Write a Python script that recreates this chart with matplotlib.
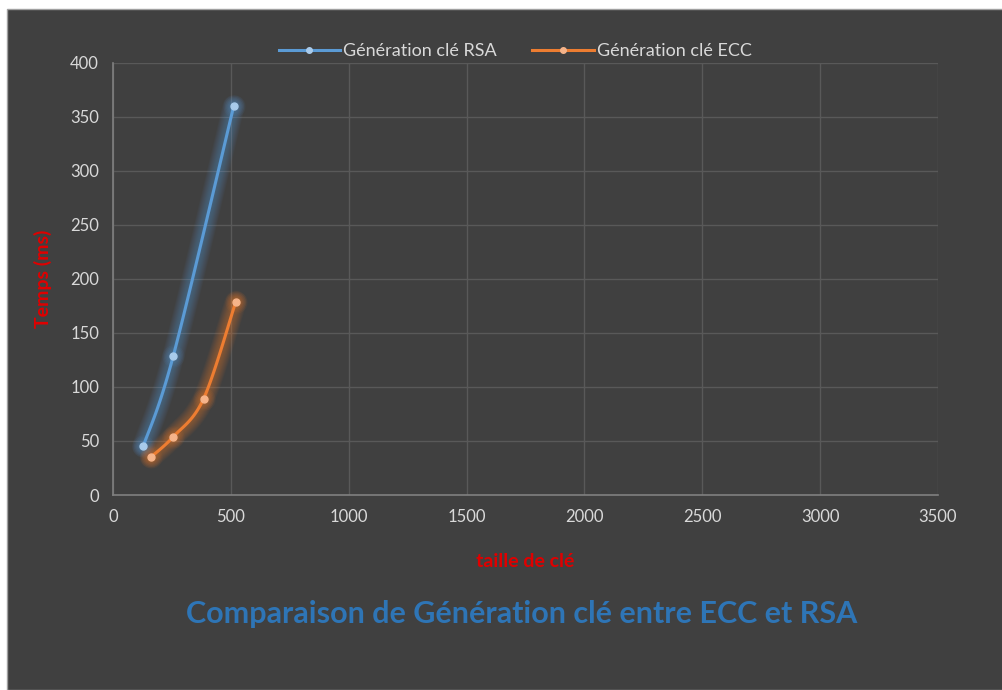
import numpy as np
import matplotlib.pyplot as plt
from matplotlib.patches import Rectangle
from matplotlib.lines import Line2D

# tailles de clé (bits) et temps de génération (ms)
rsa_sizes = [128, 256, 512]
rsa_times = [45, 129, 360]
ecc_sizes = [160, 256, 384, 521]
ecc_times = [35, 54, 89, 179]

x_ticks = [0, 500, 1000, 1500, 2000, 2500, 3000, 3500]
y_ticks = [0, 50, 100, 150, 200, 250, 300, 350, 400]

BG = "#404040"
GRID = "#595959"
TICK = "#d9d9d9"
RSA_COL = "#5b9bd5"
ECC_COL = "#ed7d31"

plt.rcParams['font.family'] = ['Lato', 'DejaVu Sans']


def smooth(xs, ys, n=40):
    # courbe lissée façon tableur : Bézier cubique à partir de Catmull-Rom
    xs = np.asarray(xs, float)
    ys = np.asarray(ys, float)
    px = np.concatenate([[xs[0]], xs, [xs[-1]]])
    py = np.concatenate([[ys[0]], ys, [ys[-1]]])
    outx, outy = [], []
    t = np.linspace(0, 1, n)
    for i in range(1, len(px) - 2):
        p0 = np.array([px[i], py[i]])
        p3 = np.array([px[i + 1], py[i + 1]])
        c1 = p0 + (np.array([px[i + 1], py[i + 1]]) - np.array([px[i - 1], py[i - 1]])) / 6
        c2 = p3 - (np.array([px[i + 2], py[i + 2]]) - np.array([px[i], py[i]])) / 6
        b = ((1 - t) ** 3)[:, None] * p0 + (3 * (1 - t) ** 2 * t)[:, None] * c1 \
            + (3 * (1 - t) * t ** 2)[:, None] * c2 + (t ** 3)[:, None] * p3
        outx.extend(b[:, 0])
        outy.extend(b[:, 1])
    return outx, outy


fig = plt.figure(figsize=(10.03, 6.9), dpi=100, facecolor="white")
fig.patches.append(Rectangle((7 / 1003, 0), 1, 1 - 9 / 690, transform=fig.transFigure,
                             facecolor=BG, edgecolor="#a0a0a0", linewidth=1, zorder=-10))

ax = fig.add_axes([113 / 1003, 1 - 495 / 690, 825 / 1003, 432 / 690])
ax.set_facecolor(BG)

for sizes, times, col, mcol in [(rsa_sizes, rsa_times, RSA_COL, "#a9cbeb"),
                                (ecc_sizes, ecc_times, ECC_COL, "#f6b48a")]:
    sx, sy = smooth(sizes, times)
    # halo lumineux diffus autour de la courbe et des points
    for lw in np.linspace(16, 3, 12):
        ax.plot(sx, sy, color=col, lw=lw, alpha=0.045, solid_capstyle="round", zorder=2)
    for ms in np.linspace(16, 6, 6):
        ax.plot(sizes, times, ls="none", marker="o", ms=ms, color=col, mec="none",
                alpha=0.06, zorder=2)
    ax.plot(sx, sy, color=col, lw=2.2, zorder=3)
    ax.plot(sizes, times, ls="none", marker="o", ms=5, color=mcol, mec=mcol, zorder=4)

ax.set_xlim(0, 3500)
ax.set_ylim(0, 400)
ax.set_xticks(x_ticks)
ax.set_yticks(y_ticks)
ax.grid(True, color=GRID, lw=1)
ax.set_axisbelow(True)
for side in ["top", "right"]:
    ax.spines[side].set_visible(False)
for side in ["left", "bottom"]:
    ax.spines[side].set_color("#808080")
    ax.spines[side].set_linewidth(1.2)
ax.tick_params(colors=TICK, labelsize=12, length=0, pad=10)

ax.set_xlabel("taille de clé", color="#e00000", fontsize=14, fontweight="bold", labelpad=20)
ax.set_ylabel("Temps (ms)", color="#e00000", fontsize=14, fontweight="bold", labelpad=13)

handles = [Line2D([0], [0], color=RSA_COL, lw=2.2, marker="o", ms=4, mfc="#a9cbeb", mec="#a9cbeb"),
           Line2D([0], [0], color=ECC_COL, lw=2.2, marker="o", ms=4, mfc="#f6b48a", mec="#f6b48a")]
fig.legend(handles, ["Génération clé RSA", "Génération clé ECC"], loc="center",
           bbox_to_anchor=(515 / 1003, 1 - 51 / 690), ncol=2, frameon=False,
           fontsize=13, labelcolor=TICK, handlelength=3.4, handletextpad=0.15, columnspacing=2.0)

fig.text(522 / 1003, 1 - 614 / 690, "Comparaison de Génération clé entre ECC et RSA",
         color="#2e75b6", fontsize=22, fontweight="bold", ha="center", va="center")

fig.savefig("out.png", dpi=100, facecolor=fig.get_facecolor())
